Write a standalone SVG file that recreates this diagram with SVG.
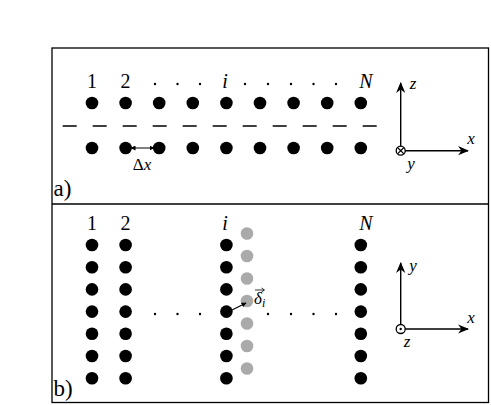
<svg xmlns="http://www.w3.org/2000/svg" width="491" height="405" viewBox="0 0 491 405">
<style>
.t{font-family:"Liberation Serif","DejaVu Serif",serif;font-size:20px;fill:#000;text-anchor:middle}
.it{font-style:italic}
.s{font-size:17px}
.lb{font-size:23px;text-anchor:start}
.d{fill:#000}
.g{fill:#aaa}
.e{fill:#000}
.ax{stroke:#000;stroke-width:1.4;fill:none}
</style>
<defs>
<marker id="ah" viewBox="0 0 10 10" refX="9" refY="5" markerWidth="11" markerHeight="11" markerUnits="userSpaceOnUse" orient="auto"><path d="M0,0.8 L10,5 L0,9.2 L3,5 Z" fill="#000"/></marker>
<marker id="sa" viewBox="0 0 10 10" refX="9" refY="5" markerWidth="5" markerHeight="5" markerUnits="userSpaceOnUse" orient="auto-start-reverse"><path d="M0,0 L10,5 L0,10 Z" fill="#000"/></marker>
<g id="d"><circle r="6.3"/></g>
<g id="gd"><circle r="6.3"/></g>
</defs>
<rect width="491" height="405" fill="#fff"/>
<g id="frame" fill="none" stroke="#000" stroke-width="1.3">
<rect x="52" y="48" width="436.5" height="354.5"/>
<line x1="52" y1="204" x2="488.5" y2="204"/>
</g>
<g id="panel-a">
<g class="d">
<use href="#d" x="92" y="103"/><use href="#d" x="125.6" y="103"/><use href="#d" x="159.2" y="103"/><use href="#d" x="192.8" y="103"/><use href="#d" x="226.4" y="103"/><use href="#d" x="260" y="103"/><use href="#d" x="293.6" y="103"/><use href="#d" x="327.2" y="103"/><use href="#d" x="360.8" y="103"/>
<use href="#d" x="92" y="148"/><use href="#d" x="125.6" y="148"/><use href="#d" x="159.2" y="148"/><use href="#d" x="192.8" y="148"/><use href="#d" x="226.4" y="148"/><use href="#d" x="260" y="148"/><use href="#d" x="293.6" y="148"/><use href="#d" x="327.2" y="148"/><use href="#d" x="360.8" y="148"/>
</g>
<line x1="62.7" y1="126" x2="377" y2="126" stroke="#000" stroke-width="1.3" stroke-dasharray="14 16"/>
<text class="t" x="92" y="88">1</text>
<text class="t" x="125.6" y="88">2</text>
<text class="t it" x="225" y="88">i</text>
<text class="t it" x="366" y="88">N</text>
<g class="e">
<circle cx="155" cy="84" r="1.2"/><circle cx="177.5" cy="84" r="1.2"/><circle cx="200" cy="84" r="1.2"/>
<circle cx="245" cy="84" r="1.2"/><circle cx="268" cy="84" r="1.2"/><circle cx="291" cy="84" r="1.2"/><circle cx="313.5" cy="84" r="1.2"/><circle cx="336" cy="84" r="1.2"/>
</g>
<line x1="131" y1="148" x2="154" y2="148" stroke="#000" stroke-width="1" marker-start="url(#sa)" marker-end="url(#sa)"/>
<text class="t s" x="142" y="170">Δ<tspan class="it">x</tspan></text>
<text class="t lb" x="53.5" y="196">a)</text>
</g>
<g id="axes-a">
<line class="ax" x1="400.7" y1="150.7" x2="400.7" y2="83" marker-end="url(#ah)"/>
<line class="ax" x1="400.7" y1="150.7" x2="468" y2="150.7" marker-end="url(#ah)"/>
<circle cx="400.7" cy="150.7" r="4.5" fill="#fff" stroke="#000" stroke-width="1.3"/>
<path d="M397.5,147.5 L403.9,153.9 M403.9,147.5 L397.5,153.9" stroke="#000" stroke-width="1.2"/>
<text class="t it s" x="413" y="89">z</text>
<text class="t it s" x="471" y="144">x</text>
<text class="t it s" x="411" y="169">y</text>
</g>
<g id="panel-b">
<g class="g">
<use href="#gd" x="247" y="233.5"/><use href="#gd" x="247" y="256"/><use href="#gd" x="247" y="278.5"/><use href="#gd" x="247" y="301"/><use href="#gd" x="247" y="323.5"/><use href="#gd" x="247" y="346"/><use href="#gd" x="247" y="368.5"/>
</g>
<g class="d">
<use href="#d" x="92" y="245"/><use href="#d" x="92" y="267.2"/><use href="#d" x="92" y="289.4"/><use href="#d" x="92" y="311.6"/><use href="#d" x="92" y="333.8"/><use href="#d" x="92" y="356"/><use href="#d" x="92" y="378.2"/>
<use href="#d" x="125.6" y="245"/><use href="#d" x="125.6" y="267.2"/><use href="#d" x="125.6" y="289.4"/><use href="#d" x="125.6" y="311.6"/><use href="#d" x="125.6" y="333.8"/><use href="#d" x="125.6" y="356"/><use href="#d" x="125.6" y="378.2"/>
<use href="#d" x="226.4" y="245"/><use href="#d" x="226.4" y="267.2"/><use href="#d" x="226.4" y="289.4"/><use href="#d" x="226.4" y="311.6"/><use href="#d" x="226.4" y="333.8"/><use href="#d" x="226.4" y="356"/><use href="#d" x="226.4" y="378.2"/>
<use href="#d" x="360.8" y="245"/><use href="#d" x="360.8" y="267.2"/><use href="#d" x="360.8" y="289.4"/><use href="#d" x="360.8" y="311.6"/><use href="#d" x="360.8" y="333.8"/><use href="#d" x="360.8" y="356"/><use href="#d" x="360.8" y="378.2"/>
</g>
<text class="t" x="92" y="230">1</text>
<text class="t" x="125.6" y="230">2</text>
<text class="t it" x="225" y="230">i</text>
<text class="t it" x="366" y="230">N</text>
<g class="e">
<circle cx="155" cy="314" r="1.2"/><circle cx="177.5" cy="314" r="1.2"/><circle cx="200" cy="314" r="1.2"/>
<circle cx="268" cy="314" r="1.2"/><circle cx="291" cy="314" r="1.2"/><circle cx="313.5" cy="314" r="1.2"/><circle cx="336" cy="314" r="1.2"/>
</g>
<line x1="228" y1="312" x2="246" y2="303" stroke="#000" stroke-width="1.1" marker-end="url(#sa)"/>
<text class="t it s" x="254" y="304" style="text-anchor:start">δ<tspan font-size="12" dy="3">i</tspan></text>
<path d="M255,290 L264,290 M261.5,288 L264.5,290 L261.5,292" stroke="#000" stroke-width="0.8" fill="none"/>
<text class="t lb" x="53.5" y="396">b)</text>
</g>
<g id="axes-b">
<line class="ax" x1="400.7" y1="329" x2="400.7" y2="263" marker-end="url(#ah)"/>
<line class="ax" x1="400.7" y1="329" x2="468" y2="329" marker-end="url(#ah)"/>
<circle cx="400.7" cy="329" r="4.5" fill="#fff" stroke="#000" stroke-width="1.3"/>
<circle cx="400.7" cy="329" r="1.2" fill="#000"/>
<text class="t it s" x="413" y="271">y</text>
<text class="t it s" x="471" y="323">x</text>
<text class="t it s" x="407" y="347">z</text>
</g>
</svg>
